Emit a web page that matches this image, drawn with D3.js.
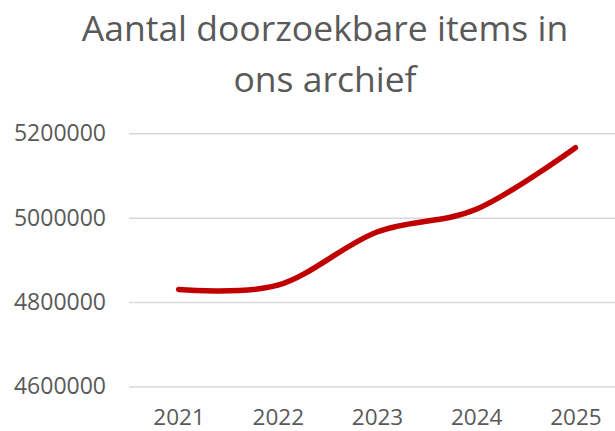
<!DOCTYPE html>
<html>
<head>
<meta charset="utf-8">
<script src="https://cdn.jsdelivr.net/npm/d3@7"></script>
<style>
  body { margin: 0; background: #fff; }
  svg { display: block; font-family: "Open Sans", "Noto Sans", sans-serif; }
</style>
</head>
<body>
<div id="chart"></div>
<script>
// Chart data
const years = ["2021", "2022", "2023", "2024", "2025"];
const items = [4830000, 4840000, 4966000, 5020000, 5166000];
const yTicks = [4600000, 4800000, 5000000, 5200000];
const titleLines = ["Aantal doorzoekbare items in", "ons archief"];

const width = 615, height = 431;
const grey = "#595959";

const svg = d3.select("#chart").append("svg")
    .attr("width", width)
    .attr("height", height);

// Scales (plot area runs a bit past the right edge, as in the original)
const x = d3.scalePoint()
    .domain(years)
    .range([129, 625])
    .padding(0.5);

const y = d3.scaleLinear()
    .domain([4600000, 5200000])
    .range([386.5, 133.3]);

// Title
svg.append("g")
    .selectAll("text")
    .data(titleLines)
    .enter()
    .append("text")
    .attr("x", 325)
    .attr("y", (d, i) => 41 + i * 51)
    .attr("text-anchor", "middle")
    .attr("fill", grey)
    .attr("font-size", 35.5)
    .text(d => d);

// Gridlines + y labels
const yAxis = svg.append("g")
    .attr("transform", "translate(129,0)")
    .call(d3.axisLeft(y).tickValues(yTicks).tickSize(-(width - 129)).tickPadding(23).tickFormat(d3.format("d")));
yAxis.select(".domain").remove();
yAxis.selectAll(".tick line").attr("stroke", "#d9d9d9").attr("stroke-width", 1.5);
yAxis.selectAll(".tick text")
    .attr("fill", grey)
    .attr("font-size", 23)
    .attr("font-family", "\"Open Sans\", sans-serif");

// X labels
const xAxis = svg.append("g")
    .attr("transform", "translate(0,386.5)")
    .call(d3.axisBottom(x).tickSize(0).tickPadding(23));
xAxis.select(".domain").remove();
xAxis.selectAll(".tick text")
    .attr("fill", grey)
    .attr("font-size", 22.5)
    .attr("font-family", "\"Open Sans\", sans-serif");

// Smoothed line
const line = d3.line()
    .x((d, i) => x(years[i]))
    .y(d => y(d))
    .curve(d3.curveCatmullRom.alpha(0));

svg.append("path")
    .datum(items)
    .attr("d", line)
    .attr("fill", "none")
    .attr("stroke", "#c00000")
    .attr("stroke-width", 5.5)
    .attr("stroke-linecap", "round")
    .attr("stroke-linejoin", "round");
</script>
</body>
</html>
